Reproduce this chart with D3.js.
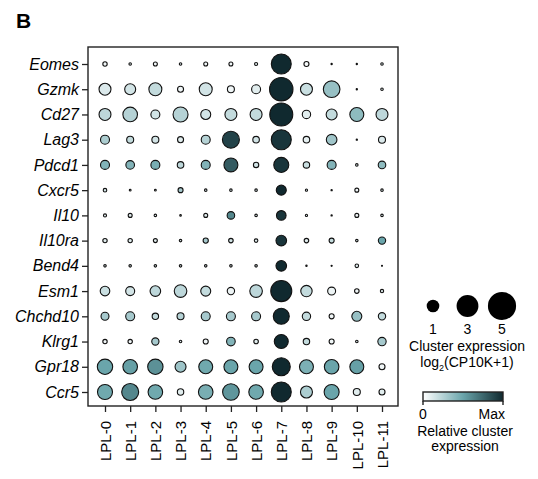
<!DOCTYPE html>
<html>
<head>
<meta charset="utf-8">
<script src="https://cdn.jsdelivr.net/npm/d3@7"></script>
<style>
  body { margin: 0; background: #fff; }
  text { font-family: Arial, "Liberation Sans", sans-serif; fill: #000; }
</style>
</head>
<body>
<div id="chart"></div>
<script>
// clusters and genes
var clusters = ["LPL-0","LPL-1","LPL-2","LPL-3","LPL-4","LPL-5","LPL-6","LPL-7","LPL-8","LPL-9","LPL-10","LPL-11"];
var genes = ["Eomes","Gzmk","Cd27","Lag3","Pdcd1","Cxcr5","Il10","Il10ra","Bend4","Esm1","Chchd10","Klrg1","Gpr18","Ccr5"];

// cluster expression, log2(CP10K+1) -> dot size
var expr = [
  [0.12,0.04,0.1,0.04,0.1,0.1,0.06,2.5,0.16,0.01,0.01,0.04],
  [0.9,0.76,1.06,0.23,1.06,0.31,0.51,3.45,0.9,1.74,0.01,0.04],
  [0.9,1.34,0.51,1.42,0.63,0.9,0.9,3.33,0.44,0.76,1.23,0.9],
  [0.51,0.31,0.31,0.23,0.51,1.82,0.27,2.52,0.27,0.71,0.01,0.31],
  [0.51,0.47,0.51,0.27,0.51,1.23,0.18,1.42,0.26,0.51,0.04,0.36],
  [0.08,0.02,0.02,0.16,0.04,0.04,0.04,0.63,0.03,0.01,0.1,0.04],
  [0.06,0.1,0.04,0.016,0.1,0.36,0.04,0.58,0.03,0.01,0.1,0.04],
  [0.12,0.12,0.1,0.04,0.17,0.13,0.08,0.71,0.13,0.16,0.04,0.34],
  [0.04,0.04,0.04,0.04,0.04,0.04,0.04,0.71,0.012,0.009,0.08,0.006],
  [0.58,0.51,0.71,1,0.63,0.34,1,2.78,0.82,0.4,0.13,0.07],
  [0.4,0.51,0.26,0.31,0.51,0.51,0.51,1.61,0.44,0.16,0.63,0.34],
  [0.12,0.12,0.33,0.04,0.16,0.47,0.13,1.23,0.26,0.16,0.04,0.44],
  [1.49,1.34,1.49,0.76,1.23,1.23,1.23,2.04,1.23,1.34,1.23,0.23],
  [1.42,1.82,1.34,0.26,1.34,1.74,1.34,2.52,0.91,1.42,0.31,0.23]
];

// relative cluster expression (0..max) -> dot colour
var rel = [
  [0.05,0.1,0.05,0.1,0.05,0.05,0.1,1,0.03,0.1,0.1,0.1],
  [0.12,0.15,0.2,0.05,0.15,0.05,0.1,1,0.18,0.35,0.1,0.1],
  [0.22,0.25,0.15,0.25,0.15,0.2,0.2,1,0.1,0.2,0.38,0.22],
  [0.28,0.2,0.15,0.1,0.25,0.9,0.15,0.95,0.08,0.32,0.1,0.12],
  [0.42,0.42,0.45,0.22,0.42,0.8,0.15,0.95,0.18,0.42,0.1,0.38],
  [0.15,0.1,0.1,0.3,0.1,0.1,0.1,1,0.1,0.1,0.05,0.1],
  [0.1,0.1,0.1,0.1,0.1,0.62,0.1,0.95,0.1,0.1,0.05,0.1],
  [0.1,0.1,0.1,0.1,0.3,0.15,0.1,0.95,0.1,0.2,0.1,0.5],
  [0.1,0.1,0.1,0.1,0.1,0.1,0.1,1,0.1,0.1,0.1,0.1],
  [0.18,0.15,0.22,0.22,0.2,0.06,0.22,1,0.2,0.06,0.05,0.1],
  [0.3,0.3,0.2,0.25,0.3,0.3,0.3,1,0.2,0.05,0.35,0.2],
  [0.05,0.05,0.3,0.1,0.05,0.42,0.1,1,0.2,0.05,0.1,0.3],
  [0.5,0.52,0.58,0.33,0.48,0.5,0.5,1,0.44,0.5,0.52,0.05],
  [0.48,0.62,0.48,0.1,0.45,0.56,0.48,1,0.28,0.5,0.1,0.1]
];

var sizeTicks = [1, 3, 5];

var width = 538, height = 479;

var svg = d3.select("#chart").append("svg")
  .attr("width", width)
  .attr("height", height);

// panel letter
svg.append("text")
  .attr("x", 16).attr("y", 28)
  .style("font-size", "21px").style("font-weight", "bold")
  .text("B");

var x = d3.scalePoint().domain(clusters).range([105, 382]);
var y = d3.scalePoint().domain(genes).range([64, 392]);
var r = d3.scaleSqrt().domain([0, 1]).range([0, 6.3]);   // area ~ value
var color = d3.scaleLinear().domain([0, 0.5, 1])
  .range(["#ffffff", "#6aa5ab", "#10292f"]);

// flatten into cells
var cells = [];
genes.forEach(function(g, i) {
  clusters.forEach(function(c, j) {
    cells.push({gene: g, cluster: c, v: expr[i][j], rel: rel[i][j]});
  });
});

// frame
svg.append("rect")
  .attr("x", 88).attr("y", 47)
  .attr("width", 310).attr("height", 359)
  .attr("fill", "none").attr("stroke", "#222").attr("stroke-width", 1.4);

// axes
var yAxis = svg.append("g")
  .attr("transform", "translate(88,0)")
  .call(d3.axisLeft(y).tickSize(6).tickPadding(3));
yAxis.select(".domain").remove();
yAxis.selectAll(".tick line").attr("stroke", "#222").attr("stroke-width", 1.3);
yAxis.selectAll(".tick text")
  .style("font-size", "16px").style("font-style", "italic")
  .attr("fill", "#000");

var xAxis = svg.append("g")
  .attr("transform", "translate(0,406)")
  .call(d3.axisBottom(x).tickSize(6).tickPadding(4));
xAxis.select(".domain").remove();
xAxis.selectAll(".tick line").attr("stroke", "#222").attr("stroke-width", 1.3);
xAxis.selectAll(".tick text")
  .style("font-size", "15px")
  .attr("fill", "#000")
  .attr("text-anchor", "end")
  .attr("transform", "rotate(-90)")
  .attr("x", -15)
  .attr("y", 0)
  .attr("dy", "0.35em");

// dots
svg.append("g").selectAll("circle")
  .data(cells)
  .enter().append("circle")
  .attr("cx", function(d) { return x(d.cluster); })
  .attr("cy", function(d) { return y(d.gene); })
  .attr("r", function(d) { return Math.max(r(d.v), 0.5); })
  .attr("fill", function(d) { return color(d.rel); })
  .attr("stroke", "#111")
  .attr("stroke-width", 1.1);

// size legend
var lx = d3.scalePoint().domain(sizeTicks).range([433, 502]);
var sizeLeg = svg.append("g");
sizeLeg.selectAll("circle")
  .data(sizeTicks).enter().append("circle")
  .attr("cx", function(d) { return lx(d); })
  .attr("cy", 306)
  .attr("r", function(d) { return r(d); })
  .attr("fill", "#000");
sizeLeg.selectAll("text")
  .data(sizeTicks).enter().append("text")
  .attr("x", function(d) { return lx(d); })
  .attr("y", 334)
  .attr("text-anchor", "middle")
  .style("font-size", "14px")
  .text(function(d) { return d; });

svg.append("text")
  .attr("x", 467).attr("y", 351)
  .attr("text-anchor", "middle")
  .style("font-size", "14px")
  .text("Cluster expression");
var t2 = svg.append("text")
  .attr("x", 467).attr("y", 367)
  .attr("text-anchor", "middle")
  .style("font-size", "14px");
t2.append("tspan").text("log");
t2.append("tspan").attr("dy", 4).style("font-size", "9px").text("2");
t2.append("tspan").attr("dy", -4).text("(CP10K+1)");

// colour legend
var defs = svg.append("defs");
var grad = defs.append("linearGradient").attr("id", "relgrad");
[0, 0.5, 1].forEach(function(s) {
  grad.append("stop").attr("offset", s * 100 + "%").attr("stop-color", color(s));
});
var cx = d3.scaleLinear().domain([0, 1]).range([423, 503]);
svg.append("rect")
  .attr("x", cx(0)).attr("y", 392)
  .attr("width", cx(1) - cx(0)).attr("height", 9)
  .attr("fill", "url(#relgrad)")
  .attr("stroke", "#222").attr("stroke-width", 1.4);
[0, 1].forEach(function(s) {
  svg.append("line")
    .attr("x1", cx(s)).attr("x2", cx(s))
    .attr("y1", 401).attr("y2", 405)
    .attr("stroke", "#222").attr("stroke-width", 1.4);
});
svg.append("text").attr("x", cx(0)).attr("y", 419)
  .attr("text-anchor", "middle").style("font-size", "14px").text("0");
svg.append("text").attr("x", cx(1) + 2).attr("y", 419)
  .attr("text-anchor", "end").style("font-size", "14px").text("Max");
svg.append("text").attr("x", 465).attr("y", 436)
  .attr("text-anchor", "middle").style("font-size", "14px").text("Relative cluster");
svg.append("text").attr("x", 465).attr("y", 451)
  .attr("text-anchor", "middle").style("font-size", "14px").text("expression");
</script>
</body>
</html>
